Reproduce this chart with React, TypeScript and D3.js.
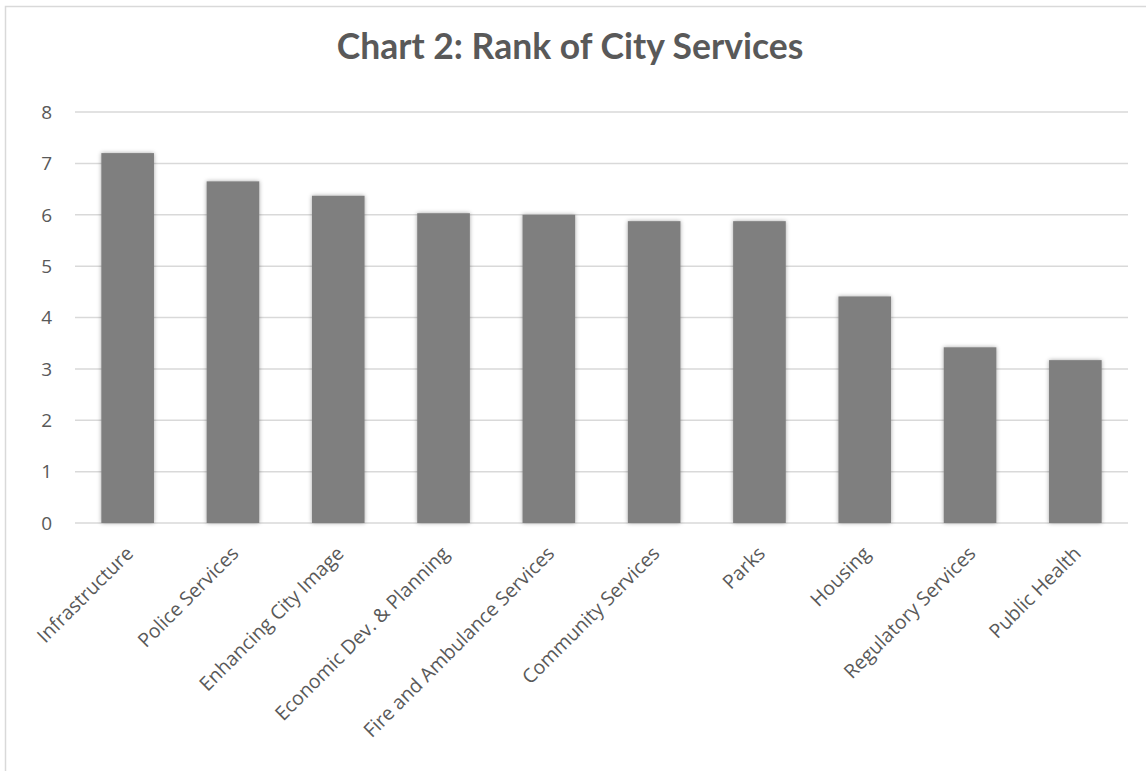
import React from "react";
import * as d3 from "d3";

const categories = [
  "Infrastructure",
  "Police Services",
  "Enhancing City Image",
  "Economic Dev. & Planning",
  "Fire and Ambulance Services",
  "Community Services",
  "Parks",
  "Housing",
  "Regulatory Services",
  "Public Health",
];
const values = [7.2, 6.65, 6.37, 6.03, 6.0, 5.875, 5.875, 4.41, 3.42, 3.17];
const yTicks = [0, 1, 2, 3, 4, 5, 6, 7, 8];
const title = "Chart 2: Rank of City Services";

const W = 1146;
const H = 771;
const plot = { left: 75, right: 1128, top: 112, bottom: 523 };
const textColor = "#595959";
const gridColor = "#d9d9d9";
const barColor = "#7f7f7f";

export default function App() {
  const x = d3
    .scaleBand<string>()
    .domain(categories)
    .range([plot.left, plot.right])
    .paddingInner(0.5)
    .paddingOuter(0.25);
  const y = d3.scaleLinear().domain([0, 8]).range([plot.bottom, plot.top]);

  return (
    <svg
      width={W}
      height={H}
      style={{ position: "absolute", left: 0, top: 0, background: "#fff" }}
    >
      <defs>
        <filter id="shadow" x="-20%" y="-5%" width="140%" height="110%">
          <feDropShadow dx="0" dy="0" stdDeviation="2" floodColor="#000" floodOpacity="0.35" />
        </filter>
      </defs>
      <rect x={0} y={0} width={W} height={H} fill="#fff" />
      <path
        d={`M5.5,${H + 5} V6.5 H${W + 5}`}
        fill="none"
        stroke={gridColor}
        strokeWidth={1.5}
      />
      <text
        x={570}
        y={59}
        textAnchor="middle"
        fontFamily="Lato, 'Open Sans', sans-serif"
        fontWeight={700}
        fontSize={35.5}
        fill={textColor}
      >
        {title}
      </text>
      {yTicks.map((t) => (
        <g key={t}>
          <line
            x1={plot.left}
            x2={plot.right}
            y1={y(t)}
            y2={y(t)}
            stroke={gridColor}
            strokeWidth={1.5}
          />
          <text
            x={52}
            y={y(t)}
            dy="0.36em"
            textAnchor="end"
            fontFamily="'Open Sans', sans-serif"
            fontSize={19}
            fill={textColor}
          >
            {t}
          </text>
        </g>
      ))}
      {categories.map((c, i) => (
        <rect
          key={c}
          x={x(c)}
          y={y(values[i])}
          width={x.bandwidth()}
          height={y(0) - y(values[i])}
          fill={barColor}
          filter="url(#shadow)"
        />
      ))}
      {categories.map((c) => {
        const cx = (x(c) as number) + x.bandwidth() / 2;
        return (
          <text
            key={c}
            transform={`translate(${cx - 4},${plot.bottom + 21}) rotate(-45)`}
            textAnchor="end"
            dy="0.78em"
            fontFamily="'Open Sans', sans-serif"
            fontSize={19.5}
            fill={textColor}
          >
            {c}
          </text>
        );
      })}
    </svg>
  );
}
